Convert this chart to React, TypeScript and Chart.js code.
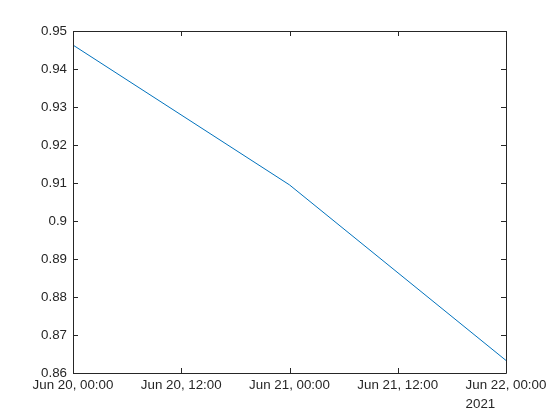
import React, { useEffect, useRef } from "react";
import { Chart, registerables } from "chart.js";

Chart.register(...registerables);

const hours = [0, 24, 48];
const values = [0.9463, 0.9095, 0.8633];
const xTickLabels: Record<number, string> = {
  0: "Jun 20, 00:00",
  12: "Jun 20, 12:00",
  24: "Jun 21, 00:00",
  36: "Jun 21, 12:00",
  48: "Jun 22, 00:00",
};
const yearLabel = "2021";

const AX = "#262626";
const FONT = "'Liberation Sans', Arial, sans-serif";
const FS = 13.33;

const boxPlugin = {
  id: "matlabBox",
  afterDraw(chart: any) {
    const { ctx, chartArea: a, scales } = chart;
    const len = 5;
    ctx.save();
    ctx.strokeStyle = AX;
    ctx.lineWidth = 1;
    ctx.beginPath();
    ctx.rect(Math.round(a.left) + 0.5, Math.round(a.top) + 0.5, Math.round(a.right - a.left), Math.round(a.bottom - a.top));
    const xs = scales.x;
    xs.ticks.forEach((t: any) => {
      const px = Math.round(xs.getPixelForValue(t.value)) + 0.5;
      ctx.moveTo(px, a.bottom);
      ctx.lineTo(px, a.bottom - len);
      ctx.moveTo(px, a.top);
      ctx.lineTo(px, a.top + len);
    });
    const ys = scales.y;
    ys.ticks.forEach((t: any) => {
      const py = Math.round(ys.getPixelForValue(t.value)) + 0.5;
      ctx.moveTo(a.left, py);
      ctx.lineTo(a.left + len, py);
      ctx.moveTo(a.right, py);
      ctx.lineTo(a.right - len, py);
    });
    ctx.stroke();
    ctx.font = `${FS}px ${FONT}`;
    ctx.fillStyle = AX;
    const lastLabel = xTickLabels[48];
    const w = ctx.measureText(lastLabel).width;
    const px = xs.getPixelForValue(48);
    ctx.textAlign = "left";
    ctx.textBaseline = "top";
    ctx.fillText(yearLabel, px - w / 2, a.bottom + 25);
    ctx.restore();
  },
};

export default function App() {
  const ref = useRef<HTMLCanvasElement>(null);
  useEffect(() => {
    const chart = new Chart(ref.current!, {
      type: "line",
      data: {
        datasets: [
          {
            data: hours.map((h, i) => ({ x: h, y: values[i] })),
            borderColor: "#0072BD",
            borderWidth: 1,
            pointRadius: 0,
            tension: 0,
            fill: false,
          },
        ],
      },
      options: {
        animation: false,
        responsive: false,
        maintainAspectRatio: false,
        layout: { padding: { left: 0, right: 54, top: 31, bottom: 0 } },
        plugins: { legend: { display: false }, tooltip: { enabled: false } },
        scales: {
          x: {
            type: "linear",
            min: 0,
            max: 48,
            grid: { display: false, tickLength: 0 },
            border: { display: false },
            ticks: {
              stepSize: 12,
              autoSkip: false,
              maxRotation: 0,
              padding: 4,
              color: AX,
              font: { family: FONT, size: FS },
              callback: (v: any) => xTickLabels[v as number] ?? "",
            },
            afterFit: (s: any) => {
              s.height = 47;
            },
          },
          y: {
            min: 0.86,
            max: 0.95,
            grid: { display: false, tickLength: 0 },
            border: { display: false },
            ticks: {
              stepSize: 0.01,
              padding: 6,
              color: AX,
              font: { family: FONT, size: FS },
              callback: (v: any) => String(Number((v as number).toFixed(2))),
            },
            afterFit: (s: any) => {
              s.width = 73;
            },
          },
        },
      },
      plugins: [boxPlugin],
    });
    return () => chart.destroy();
  }, []);
  return (
    <div style={{ position: "fixed", left: 0, top: 0, width: 560, height: 420, background: "#fff" }}>
      <canvas ref={ref} width={560} height={420} />
    </div>
  );
}
